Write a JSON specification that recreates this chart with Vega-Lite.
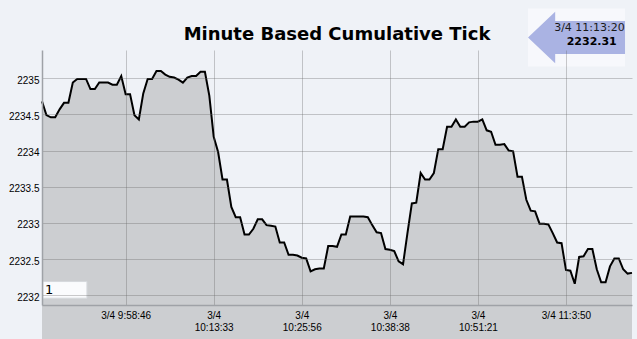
{
  "$schema": "https://vega.github.io/schema/vega-lite/v6.json",
  "autosize": "none",
  "width": 590,
  "height": 255,
  "padding": {"left": 42, "top": 50, "right": 5, "bottom": 34},
  "background": "#eff2f7",
  "config": {"view": {"stroke": null}, "font": "Liberation Sans"},
  "title": {
    "text": "Minute Based Cumulative Tick",
    "font": "DejaVu Sans",
    "fontSize": 18,
    "fontWeight": "bold",
    "color": "#000000",
    "anchor": "middle",
    "frame": "group",
    "baseline": "alphabetic",
    "offset": 8,
    "dy": 58
  },
  "datasets": {
    "ticks": [
      {"i":0,"v":2234.68},{"i":1,"v":2234.49},{"i":2,"v":2234.46},{"i":3,"v":2234.46},{"i":4,"v":2234.57},
      {"i":5,"v":2234.66},{"i":6,"v":2234.66},{"i":7,"v":2234.94},{"i":8,"v":2234.99},{"i":9,"v":2234.99},
      {"i":10,"v":2234.99},{"i":11,"v":2234.85},{"i":12,"v":2234.85},{"i":13,"v":2234.94},{"i":14,"v":2234.94},
      {"i":15,"v":2234.94},{"i":16,"v":2234.91},{"i":17,"v":2234.91},{"i":18,"v":2235.03},{"i":19,"v":2234.78},
      {"i":20,"v":2234.78},{"i":21,"v":2234.49},{"i":22,"v":2234.43},{"i":23,"v":2234.79},{"i":24,"v":2234.99},
      {"i":25,"v":2234.99},{"i":26,"v":2235.10},{"i":27,"v":2235.10},{"i":28,"v":2235.05},{"i":29,"v":2235.02},
      {"i":30,"v":2235.01},{"i":31,"v":2234.98},{"i":32,"v":2234.94},{"i":33,"v":2235.01},{"i":34,"v":2235.03},
      {"i":35,"v":2235.03},{"i":36,"v":2235.09},{"i":37,"v":2235.09},{"i":38,"v":2234.76},{"i":39,"v":2234.19},
      {"i":40,"v":2233.98},{"i":41,"v":2233.60},{"i":42,"v":2233.60},{"i":43,"v":2233.22},{"i":44,"v":2233.08},
      {"i":45,"v":2233.08},{"i":46,"v":2232.84},{"i":47,"v":2232.84},{"i":48,"v":2232.92},{"i":49,"v":2233.05},
      {"i":50,"v":2233.05},{"i":51,"v":2232.97},{"i":52,"v":2232.96},{"i":53,"v":2232.95},{"i":54,"v":2232.73},
      {"i":55,"v":2232.73},{"i":56,"v":2232.56},{"i":57,"v":2232.56},{"i":58,"v":2232.55},{"i":59,"v":2232.52},
      {"i":60,"v":2232.51},{"i":61,"v":2232.33},{"i":62,"v":2232.36},{"i":63,"v":2232.37},{"i":64,"v":2232.37},
      {"i":65,"v":2232.68},{"i":66,"v":2232.68},{"i":67,"v":2232.67},{"i":68,"v":2232.84},{"i":69,"v":2232.84},
      {"i":70,"v":2233.09},{"i":71,"v":2233.09},{"i":72,"v":2233.09},{"i":73,"v":2233.09},{"i":74,"v":2233.08},
      {"i":75,"v":2232.97},{"i":76,"v":2232.87},{"i":77,"v":2232.86},{"i":78,"v":2232.64},{"i":79,"v":2232.63},
      {"i":80,"v":2232.61},{"i":81,"v":2232.47},{"i":82,"v":2232.43},{"i":83,"v":2232.86},{"i":84,"v":2233.27},
      {"i":85,"v":2233.28},{"i":86,"v":2233.69},{"i":87,"v":2233.60},{"i":88,"v":2233.60},{"i":89,"v":2233.69},
      {"i":90,"v":2234.02},{"i":91,"v":2234.02},{"i":92,"v":2234.33},{"i":93,"v":2234.33},{"i":94,"v":2234.43},
      {"i":95,"v":2234.33},{"i":96,"v":2234.33},{"i":97,"v":2234.39},{"i":98,"v":2234.40},{"i":99,"v":2234.40},
      {"i":100,"v":2234.43},{"i":101,"v":2234.28},{"i":102,"v":2234.26},{"i":103,"v":2234.08},{"i":104,"v":2234.08},
      {"i":105,"v":2234.09},{"i":106,"v":2234.00},{"i":107,"v":2233.99},{"i":108,"v":2233.64},{"i":109,"v":2233.64},
      {"i":110,"v":2233.32},{"i":111,"v":2233.17},{"i":112,"v":2233.16},{"i":113,"v":2232.99},{"i":114,"v":2232.99},
      {"i":115,"v":2232.98},{"i":116,"v":2232.86},{"i":117,"v":2232.73},{"i":118,"v":2232.72},{"i":119,"v":2232.35},
      {"i":120,"v":2232.34},{"i":121,"v":2232.16},{"i":122,"v":2232.53},{"i":123,"v":2232.54},{"i":124,"v":2232.64},
      {"i":125,"v":2232.64},{"i":126,"v":2232.36},{"i":127,"v":2232.18},{"i":128,"v":2232.18},{"i":129,"v":2232.40},
      {"i":130,"v":2232.51},{"i":131,"v":2232.51},{"i":132,"v":2232.36},{"i":133,"v":2232.30},{"i":134,"v":2232.31}
    ],
    "last": [{"time": "3/4 11:13:20", "price": 2232.31}],
    "box": [{"label": "1"}]
  },
  "layer": [
    {
      "data": {"name": "ticks"},
      "mark": {"type": "area", "color": "#ccced1", "opacity": 1},
      "encoding": {
        "x": {
          "field": "i", "type": "quantitative",
          "scale": {"domain": [0, 134], "nice": false, "zero": false},
          "axis": {
            "title": null, "zindex": 1,
            "values": [19, 39, 59, 79, 99, 119],
            "labelExpr": "datum.value == 19 ? '3/4 9:58:46' : datum.value == 39 ? ['3/4', '10:13:33'] : datum.value == 59 ? ['3/4', '10:25:56'] : datum.value == 79 ? ['3/4', '10:38:38'] : datum.value == 99 ? ['3/4', '10:51:21'] : '3/4 11:3:50'",
            "labelFont": "Liberation Sans", "labelFontSize": 10, "labelColor": "#000000",
            "labelLineHeight": 12, "labelPadding": 5, "labelOverlap": false, "labelFlush": false,
            "ticks": false,
            "grid": true, "gridColor": "#666666", "gridOpacity": 0.34, "gridWidth": 1,
            "domainColor": "#9fa2a7", "domainWidth": 1.5
          }
        },
        "y": {
          "field": "v", "type": "quantitative",
          "scale": {"domain": [2231.866, 2235.39], "nice": false, "zero": false},
          "axis": {
            "title": null, "zindex": 1,
            "values": [2232, 2232.5, 2233, 2233.5, 2234, 2234.5, 2235],
            "format": ".1~f",
            "labelFont": "Liberation Sans", "labelFontSize": 10, "labelColor": "#000000",
            "labelPadding": 3, "labelOffset": 2, "ticks": false,
            "grid": true, "gridColor": "#666666", "gridOpacity": 0.34, "gridWidth": 1,
            "domainColor": "#9fa2a7", "domainWidth": 1.5
          }
        }
      }
    },
    {
      "data": {"name": "ticks"},
      "mark": {"type": "line", "color": "#000000", "strokeWidth": 2},
      "encoding": {
        "x": {"field": "i", "type": "quantitative"},
        "y": {"field": "v", "type": "quantitative"}
      }
    },
    {
      "data": {"name": "box"},
      "mark": {"type": "rect", "fill": "#fafbfd", "stroke": "#d6d9dd", "strokeWidth": 1},
      "encoding": {
        "x": {"datum": 0.2, "type": "quantitative"},
        "x2": {"datum": 10.2},
        "y": {"datum": 2231.96, "type": "quantitative"},
        "y2": {"datum": 2232.19}
      }
    },
    {
      "data": {"name": "box"},
      "mark": {"type": "text", "font": "DejaVu Sans", "fontSize": 13, "color": "#000000", "align": "left", "baseline": "middle"},
      "encoding": {
        "x": {"datum": 0.68, "type": "quantitative"},
        "y": {"datum": 2232.073, "type": "quantitative"},
        "text": {"field": "label"}
      }
    },
    {
      "data": {"name": "last"},
      "mark": {"type": "point", "shape": "M -1 -0.6 L 1 -0.6 L 1 0.6 L -1 0.6 Z", "filled": true, "fill": "#f7f8fc", "opacity": 1, "size": 9409, "strokeWidth": 0},
      "encoding": {
        "x": {"datum": 121.4, "type": "quantitative"},
        "y": {"datum": 2235.563, "type": "quantitative"}
      }
    },
    {
      "data": {"name": "last"},
      "mark": {"type": "point", "shape": "M -1 0 L -0.44 -0.53 L -0.44 -0.34 L 1 -0.34 L 1 0.34 L -0.44 0.34 L -0.44 0.53 Z", "filled": true, "fill": "#aab3e3", "opacity": 1, "size": 9409, "strokeWidth": 0},
      "encoding": {
        "x": {"datum": 121.4, "type": "quantitative"},
        "y": {"datum": 2235.563, "type": "quantitative"}
      }
    },
    {
      "data": {"name": "last"},
      "mark": {"type": "text", "font": "DejaVu Sans", "fontSize": 11, "color": "#1a1a1a", "align": "center", "baseline": "middle"},
      "encoding": {
        "x": {"datum": 124.34, "type": "quantitative"},
        "y": {"datum": 2235.69, "type": "quantitative"},
        "text": {"field": "time"}
      }
    },
    {
      "data": {"name": "last"},
      "mark": {"type": "text", "font": "DejaVu Sans", "fontSize": 11, "fontWeight": "bold", "color": "#000000", "align": "center", "baseline": "middle"},
      "encoding": {
        "x": {"datum": 124.85, "type": "quantitative"},
        "y": {"datum": 2235.496, "type": "quantitative"},
        "text": {"field": "price", "type": "quantitative", "format": ".2f"}
      }
    }
  ]
}
